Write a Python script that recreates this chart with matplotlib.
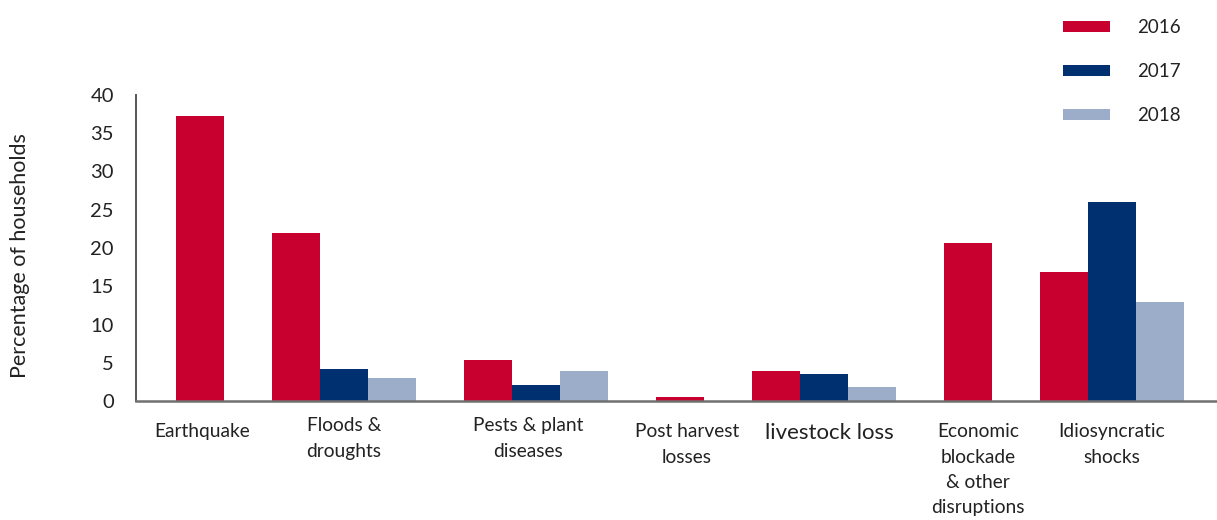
import numpy as np
import matplotlib.pyplot as plt
import matplotlib.transforms as mtransforms
from matplotlib.patches import Patch

plt.rcParams['font.family'] = ['Lato', 'DejaVu Sans']

# ------------------------------------------------------------
# data: share of households reporting each shock, by year
# ------------------------------------------------------------
categories = ['Earthquake', 'Floods &\ndroughts', 'Pests & plant\ndiseases',
              'Post harvest\nlosses', 'livestock loss',
              'Economic\nblockade\n& other\ndisruptions', 'Idiosyncratic\nshocks']
years = ['2016', '2017', '2018']
v2016 = [37.2, 22.0, 5.4, 0.5, 3.9, 20.6, 16.9]
v2017 = [None, 4.2, 2.1, None, 3.5, None, 26.0]
v2018 = [None, 3.0, 3.9, None, 1.8, None, 13.0]
colors = ['#C8002F', '#003070', '#9BADC8']

series = [v2016, v2017, v2018]

fig = plt.figure(figsize=(12.17, 5.2), dpi=100)
ax = fig.add_axes([136 / 1217, 119 / 520, 1081 / 1217, 306 / 520])

# bars of one group sit side by side, missing years are skipped,
# one empty bar-width between groups
pos = 0
centers = []
for i in range(len(categories)):
    start = pos
    for s, vals in enumerate(series):
        v = vals[i]
        if v is None:
            continue
        ax.bar(pos, v, width=1.0, align='edge', color=colors[s], linewidth=0)
        pos += 1
    centers.append((start + pos) / 2)
    pos += 1

ax.set_xlim(-40 / 48, 21 + 33 / 48)
ax.set_ylim(0, 40)
ax.set_yticks(np.arange(0, 41, 5))
ax.tick_params(axis='y', length=0, pad=16, labelsize=14.5, labelcolor='#222222')
ax.tick_params(axis='x', length=0, pad=16, labelsize=13.8, labelcolor='#222222')
ax.set_xticks(centers)
ax.set_xticklabels(categories, linespacing=1.6, va='top')
ax.get_xticklabels()[4].set_fontsize(16)

# hand-placed label nudges (pixels: right, up)
nudges = [(2, 0), (0, 6), (-8, 6), (7, 0), (5, 0), (10, 0), (0, 0)]
for lab, (dx, dy) in zip(ax.get_xticklabels(), nudges):
    off = mtransforms.ScaledTranslation(dx / 100, dy / 100, fig.dpi_scale_trans)
    lab.set_transform(lab.get_transform() + off)

ax.set_ylabel('Percentage of households', fontsize=15.5, color='#222222')
ax.yaxis.set_label_coords(-0.098, 0.475)

for side in ['top', 'right']:
    ax.spines[side].set_visible(False)
ax.spines['left'].set_color('#555555')
ax.spines['left'].set_linewidth(1.4)
ax.spines['bottom'].set_color('#707070')
ax.spines['bottom'].set_linewidth(1.8)

handles = [Patch(facecolor=c, edgecolor='none') for c in colors]
fig.legend(handles, years, loc='upper left', bbox_to_anchor=(1046 / 1217, 1 - 2 / 520),
           frameon=False, fontsize=13.5, handlelength=2.5, handleheight=0.55,
           handletextpad=1.45, labelspacing=1.45, labelcolor='#222222')

fig.savefig('out.png', dpi=100)
